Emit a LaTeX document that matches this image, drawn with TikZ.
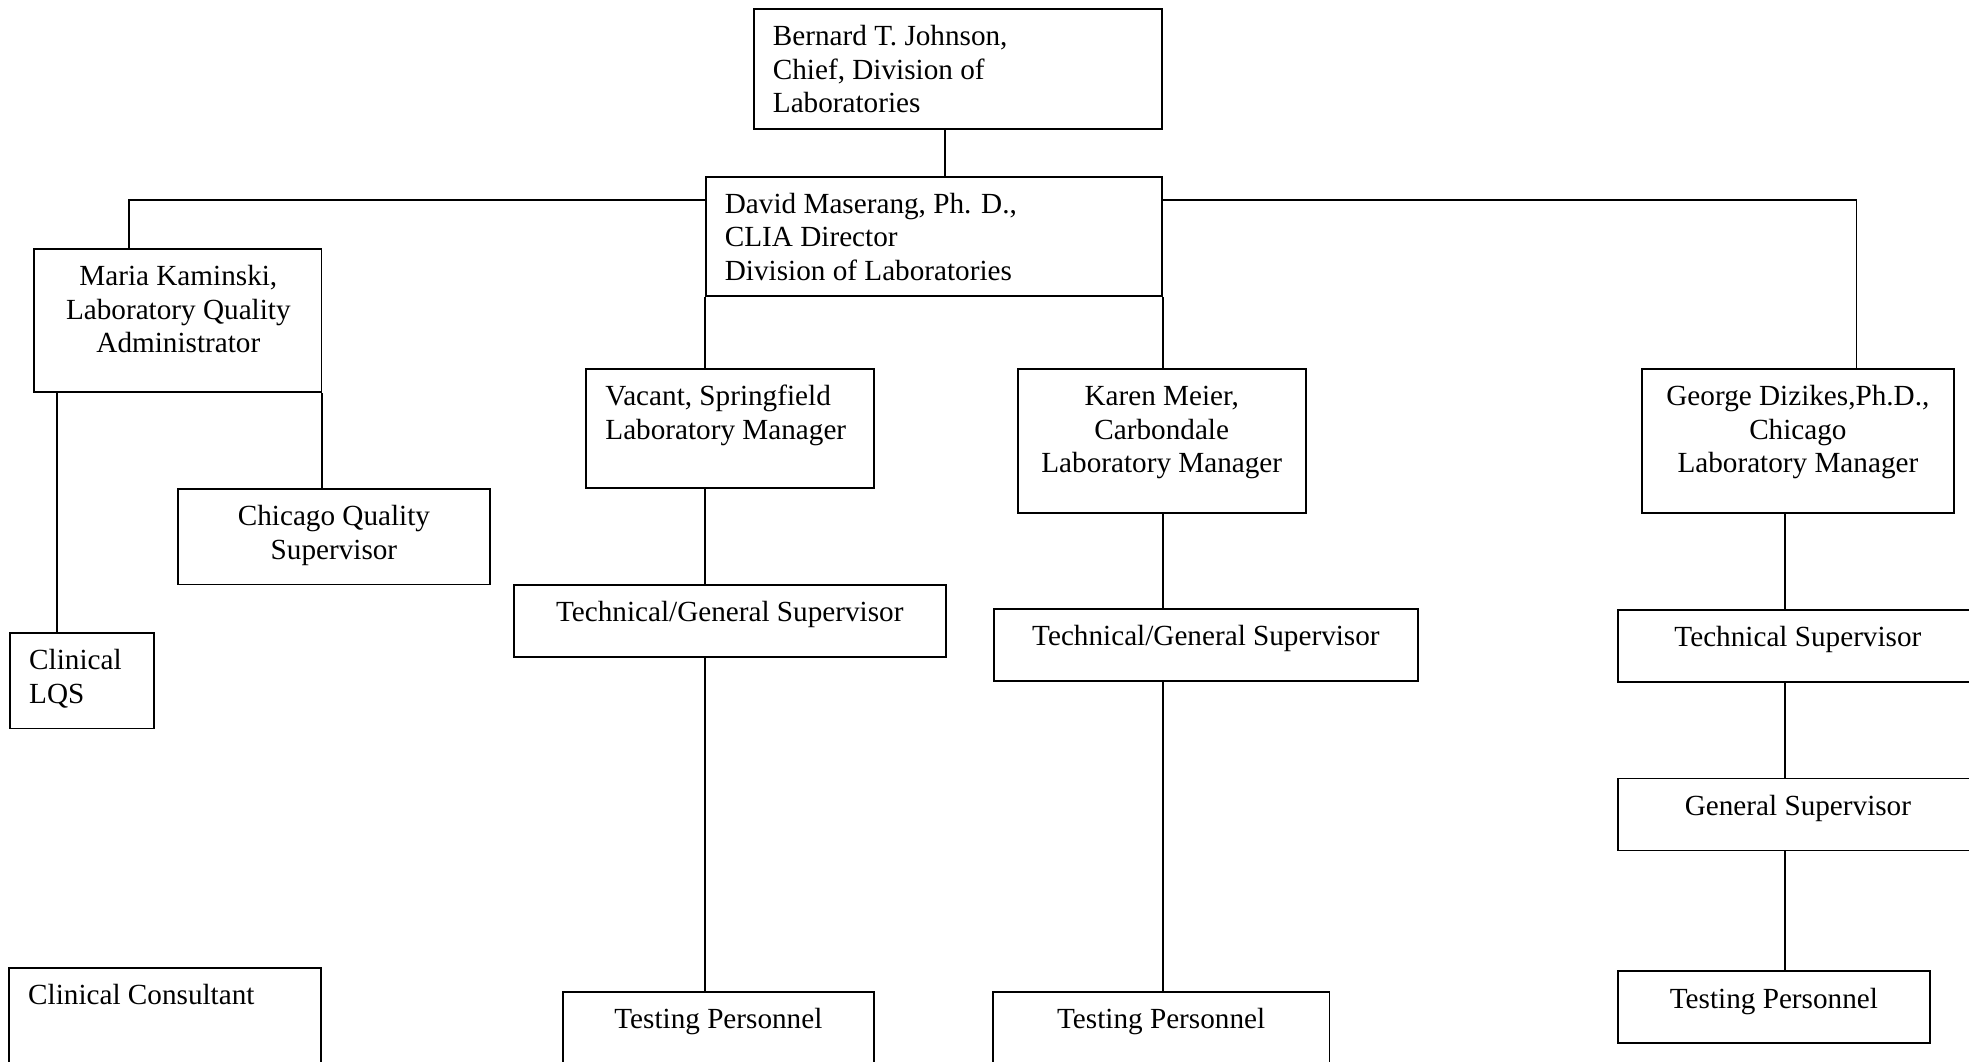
\documentclass[tikz,border=0pt]{standalone}
\usepackage{fontspec}
\setmainfont{Liberation Serif}
\usetikzlibrary{calc}
\begin{document}
\begin{tikzpicture}[x=1pt,y=-1pt,
  box/.style={draw, line width=1.8pt, rectangle, inner sep=0pt, anchor=north west},
  lbl/.style={inner sep=0pt, font=\fontsize{29.2}{33.5}\selectfont},
  ltext/.style={lbl, anchor=north west, align=left},
  ctext/.style={lbl, anchor=north, align=center},
  conn/.style={line width=1.8pt}]
\useasboundingbox (0,0) rectangle (1969,1061);

% boxes
\node[box, minimum width=408.3, minimum height=119.7] (boss)   at (752.7,8) {};
\node[box, minimum width=456.3, minimum height=119.6] (dir)    at (704.7,175.7) {};
\node[box, minimum width=287.5, minimum height=143.4] (maria)  at (33,248) {};
\node[box, minimum width=312.5, minimum height=95.6]  (cqs)    at (176.8,488) {};
\node[box, minimum width=144,   minimum height=95.5]  (lqs)    at (9,632) {};
\node[box, minimum width=312,   minimum height=130]   (cc)     at (8,967) {};
\node[box, minimum width=288,   minimum height=119.3] (vac)    at (584.7,368) {};
\node[box, minimum width=432.3, minimum height=71.7]  (tg1)    at (512.7,584) {};
\node[box, minimum width=311,   minimum height=130]   (tp1)    at (562,991) {};
\node[box, minimum width=288.3, minimum height=144]   (karen)  at (1016.7,368) {};
\node[box, minimum width=424.6, minimum height=72.3]  (tg2)    at (992.7,607.7) {};
\node[box, minimum width=336.5, minimum height=130]   (tp2)    at (992,991) {};
\node[box, minimum width=312.6, minimum height=144]   (george) at (1640.7,368) {};
\node[box, minimum width=360.6, minimum height=72]    (ts)     at (1616.7,609) {};
\node[box, minimum width=360.6, minimum height=72]    (gs)     at (1616.7,777.5) {};
\node[box, minimum width=312.6, minimum height=72]    (tp3)    at (1616.7,970.4) {};

% texts
\node[ltext] (tboss)  at ($(boss.north west)+(20,14)$)  {\strut Bernard T. Johnson,\\Chief, Division of\\Laboratories};
\node[ltext] (tdir)   at ($(dir.north west)+(20,14)$)   {\strut David Maserang, Ph. D.,\\CLIA Director\\Division of Laboratories};
\node[ctext] (tmaria) at ($(maria.north)+(0.7,14)$)     {\strut Maria Kaminski,\\Laboratory Quality\\Administrator};
\node[ctext] (tcqs)   at ($(cqs.north)+(0,14)$)         {\strut Chicago Quality\\Supervisor};
\node[ltext] (tlqs)   at ($(lqs.north west)+(20,14)$)   {\strut Clinical\\LQS};
\node[ltext] (tcc)    at ($(cc.north west)+(20,14)$)    {\strut Clinical Consultant};
\node[ltext] (tvac)   at ($(vac.north west)+(20.5,14)$) {\strut Vacant, Springfield\\Laboratory Manager};
\node[ctext] (ttg1)   at ($(tg1.north)+(0,14)$)         {\strut Technical/General Supervisor};
\node[ctext] (ttp1)   at ($(tp1.north)+(0,14)$)         {\strut Testing Personnel};
\node[ctext] (tkaren) at ($(karen.north)+(0,14)$)       {\strut Karen Meier,\\Carbondale\\Laboratory Manager};
\node[ctext] (ttg2)   at ($(tg2.north)+(0,14)$)         {\strut Technical/General Supervisor};
\node[ctext] (ttp2)   at ($(tp2.north)+(0,14)$)         {\strut Testing Personnel};
\node[ctext] (tgeo)   at ($(george.north)+(0,14)$)      {\strut George Dizikes,Ph.D.,\\Chicago\\Laboratory Manager};
\node[ctext] (tts)    at ($(ts.north)+(0,14)$)          {\strut Technical Supervisor};
\node[ctext] (tgs)    at ($(gs.north)+(0,14)$)          {\strut General Supervisor};
\node[ctext] (ttp3)   at ($(tp3.north)+(0,14)$)         {\strut Testing Personnel};

% helper coordinates for connector lines
\coordinate (hb) at (0,200);
\coordinate (xA) at (945,0);
\coordinate (xM) at (129,0);
\coordinate (xG) at (1856.5,0);
\coordinate (xS) at (704.7,0);
\coordinate (xL) at (56.7,0);
\coordinate (xC) at (1785,0);

% connectors
\draw[conn] (boss.south -| xA) -- (dir.north -| xA);
\draw[conn] (dir.west |- hb) -| (maria.north -| xM);
\draw[conn] (dir.east |- hb) -| (george.north -| xG);
\draw[conn] (dir.south west) -- (vac.north -| dir.south west);
\draw[conn] (dir.south east) -- (karen.north -| dir.south east);
\draw[conn] (vac.south -| xS) -- (tg1.north -| xS);
\draw[conn] (tg1.south -| xS) -- (tp1.north -| xS);
\draw[conn] (karen.south -| dir.south east) -- (tg2.north -| dir.south east);
\draw[conn] (tg2.south -| dir.south east) -- (tp2.north -| dir.south east);
\draw[conn] (george.south -| xC) -- (ts.north -| xC);
\draw[conn] (ts.south -| xC) -- (gs.north -| xC);
\draw[conn] (gs.south -| xC) -- (tp3.north -| xC);
\draw[conn] (maria.south east) -- (cqs.north -| maria.south east);
\draw[conn] (maria.south -| xL) -- (lqs.north -| xL);
\end{tikzpicture}
\end{document}
